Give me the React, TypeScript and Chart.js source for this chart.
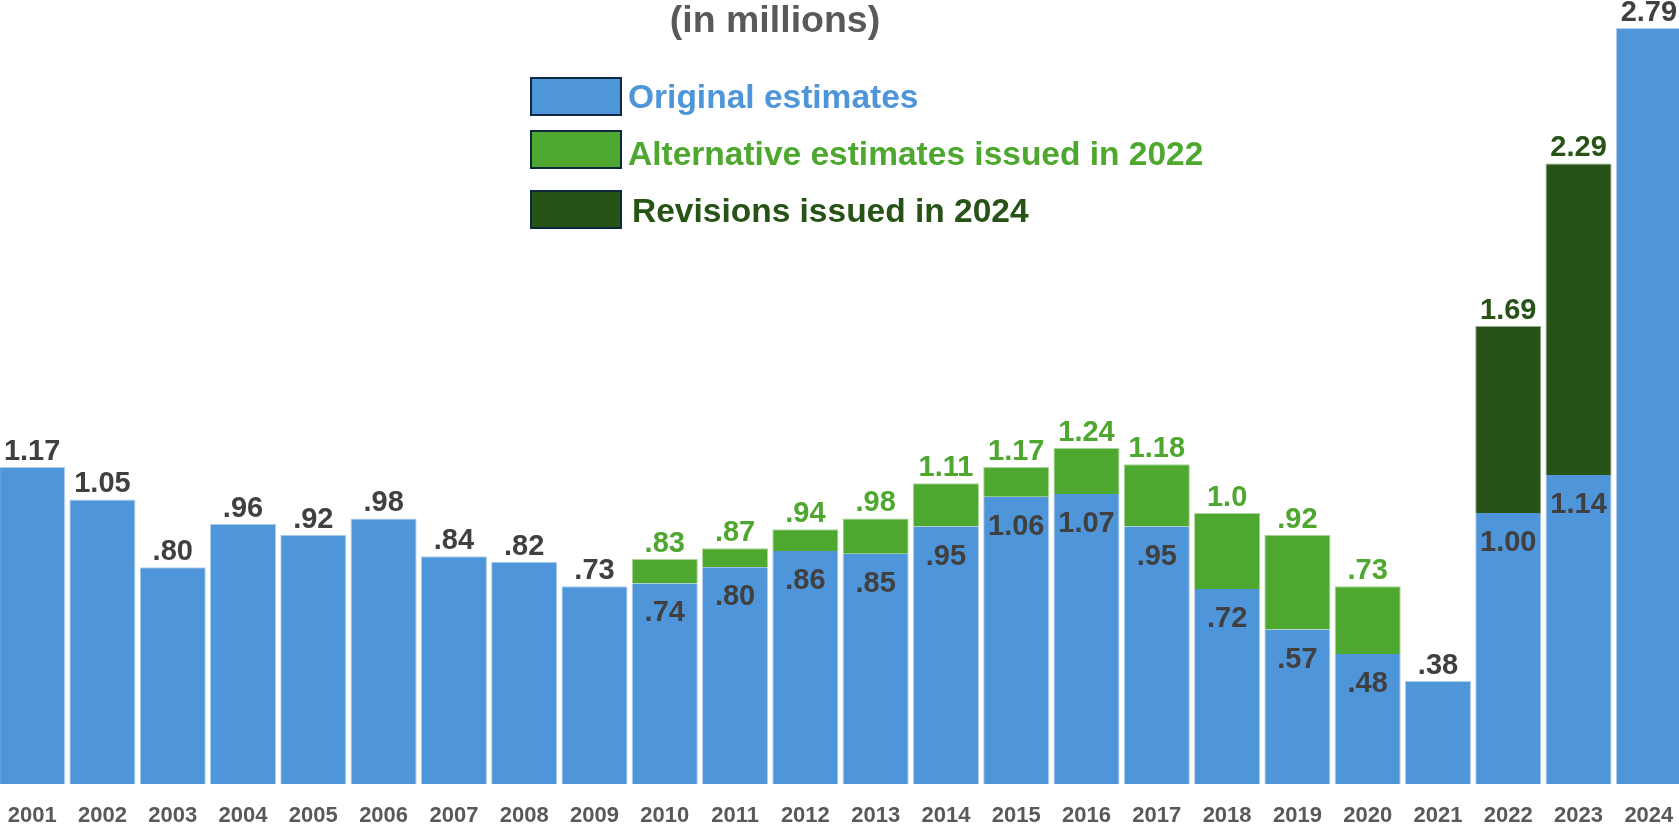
import React, { useEffect, useRef } from "react";
import { Chart, registerables } from "chart.js";

Chart.register(...registerables);

const years = [
  "2001", "2002", "2003", "2004", "2005", "2006", "2007", "2008", "2009", "2010", "2011", "2012",
  "2013", "2014", "2015", "2016", "2017", "2018", "2019", "2020", "2021", "2022", "2023", "2024",
];
const originalEstimates = [
  1.17, 1.05, 0.8, 0.96, 0.92, 0.98, 0.84, 0.82, 0.73, 0.74, 0.8, 0.86,
  0.85, 0.95, 1.06, 1.07, 0.95, 0.72, 0.57, 0.48, 0.38, 1.0, 1.14, 2.79,
];
const alternativeTotals = [
  null, null, null, null, null, null, null, null, null, 0.83, 0.87, 0.94,
  0.98, 1.11, 1.17, 1.24, 1.18, 1.0, 0.92, 0.73, null, null, null, null,
];
const alternativeLabels = [
  "", "", "", "", "", "", "", "", "", ".83", ".87", ".94",
  ".98", "1.11", "1.17", "1.24", "1.18", "1.0", ".92", ".73", "", "", "", "",
];
const revisionTotals = [
  null, null, null, null, null, null, null, null, null, null, null, null,
  null, null, null, null, null, null, null, null, null, 1.69, 2.29, null,
];
const legendLabels = ["Original estimates", "Alternative estimates issued in 2022", "Revisions issued in 2024"];
const titleText = "(in millions)";

const BLUE = "#4E95D9";
const GREEN = "#4EA72E";
const DARK = "#275317";
const TEXT = "#404040";
const GREY = "#595959";
const FONT = "'Liberation Sans', Arial, sans-serif";
const OFFSET_X = 3;

const fmt = (v: number) => (v < 1 ? v.toFixed(2).slice(1) : v.toFixed(2));

const labelsPlugin = {
  id: "customLabels",
  afterDatasetsDraw(chart: any) {
    const ctx = chart.ctx;
    const m0 = chart.getDatasetMeta(0);
    const m1 = chart.getDatasetMeta(1);
    const m2 = chart.getDatasetMeta(2);
    ctx.save();
    ctx.font = `bold 29px ${FONT}`;
    ctx.textAlign = "center";
    ctx.textBaseline = "alphabetic";
    years.forEach((_, i) => {
      const b0 = m0.data[i];
      const x = b0.x;
      let topLabel: string | null = null;
      let topColor = TEXT;
      let topY = 0;
      if (alternativeTotals[i] != null) {
        topLabel = alternativeLabels[i];
        topColor = GREEN;
        topY = m1.data[i].y;
      } else if (revisionTotals[i] != null) {
        topLabel = fmt(revisionTotals[i] as number);
        topColor = DARK;
        topY = m2.data[i].y;
      }
      if (topLabel) {
        ctx.fillStyle = topColor;
        ctx.fillText(topLabel, x, topY - 7);
        ctx.fillStyle = TEXT;
        ctx.fillText(fmt(originalEstimates[i]), x, b0.y + 38);
      } else {
        ctx.fillStyle = TEXT;
        ctx.fillText(fmt(originalEstimates[i]), x, b0.y - 7);
      }
    });
    ctx.restore();
  },
  afterDraw(chart: any) {
    const ctx = chart.ctx;
    ctx.save();
    ctx.textBaseline = "alphabetic";
    ctx.fillStyle = GREY;
    ctx.textAlign = "center";
    ctx.font = `bold 37.5px ${FONT}`;
    ctx.fillText(titleText, 775 + OFFSET_X, 32);

    const colors = [BLUE, GREEN, DARK];
    const boxTops = [77, 130, 190];
    const baselines = [108, 165, 222];
    const textX = [628, 628, 632];
    ctx.textAlign = "left";
    ctx.font = `bold 33.5px ${FONT}`;
    legendLabels.forEach((t, k) => {
      ctx.fillStyle = colors[k];
      ctx.fillRect(530 + OFFSET_X, boxTops[k], 92, 39);
      ctx.strokeStyle = "#0E2841";
      ctx.lineWidth = 2;
      ctx.strokeRect(530 + OFFSET_X + 1, boxTops[k] + 1, 90, 37);
      ctx.fillStyle = colors[k];
      ctx.fillText(t, textX[k] + OFFSET_X, baselines[k]);
    });
    ctx.restore();
  },
};

export default function App() {
  const canvasRef = useRef<HTMLCanvasElement | null>(null);

  useEffect(() => {
    if (!canvasRef.current) return;
    const altIncrements = alternativeTotals.map((t, i) => (t == null ? null : +(t - originalEstimates[i]).toFixed(2)));
    const revIncrements = revisionTotals.map((t, i) => (t == null ? null : +(t - originalEstimates[i]).toFixed(2)));
    const hasAbove = (i: number) => alternativeTotals[i] != null || revisionTotals[i] != null;

    const chart = new Chart(canvasRef.current, {
      type: "bar",
      data: {
        labels: years,
        datasets: [
          {
            label: legendLabels[0],
            data: originalEstimates,
            backgroundColor: BLUE,
            borderColor: "#B3CFEE",
            borderWidth: (c: any) =>
              hasAbove(c.dataIndex) ? { left: 1, right: 1, top: 0, bottom: 0 } : { left: 1, right: 1, top: 1, bottom: 0 },
            borderSkipped: false,
            stack: "s",
            barPercentage: 0.94,
            categoryPercentage: 1,
          },
          {
            label: legendLabels[1],
            data: altIncrements,
            backgroundColor: GREEN,
            borderColor: "#A9D59A",
            borderWidth: { left: 1, right: 1, top: 1, bottom: 0 },
            borderSkipped: false,
            stack: "s",
            barPercentage: 0.94,
            categoryPercentage: 1,
          },
          {
            label: legendLabels[2],
            data: revIncrements,
            backgroundColor: DARK,
            borderColor: "#93A98B",
            borderWidth: { left: 1, right: 1, top: 1, bottom: 0 },
            borderSkipped: false,
            stack: "s",
            barPercentage: 0.94,
            categoryPercentage: 1,
          },
        ],
      } as any,
      options: {
        responsive: false,
        animation: false,
        layout: { padding: 0 },
        plugins: {
          legend: { display: false },
          title: { display: false },
          tooltip: { enabled: false },
        },
        scales: {
          x: {
            stacked: true,
            grid: { display: false, drawTicks: false },
            border: { display: false },
            ticks: {
              color: GREY,
              font: { family: FONT, size: 22, weight: "bold" },
              padding: 19,
              maxRotation: 0,
              autoSkip: false,
            },
            afterFit: (scale: any) => {
              scale.height = 43;
              scale.paddingLeft = 0;
              scale.paddingRight = 0;
            },
          },
          y: {
            stacked: true,
            display: false,
            min: 0,
            max: 2.893,
          },
        },
      } as any,
      plugins: [labelsPlugin],
    });
    return () => chart.destroy();
  }, []);

  return (
    <div
      style={{
        position: "fixed",
        left: 0,
        top: 0,
        width: 1679,
        height: 827,
        overflow: "hidden",
        background: "#ffffff",
      }}
    >
      <canvas
        ref={canvasRef}
        width={1679 + 2 * OFFSET_X + 2}
        height={827}
        style={{ position: "absolute", left: -OFFSET_X, top: 0 }}
      />
    </div>
  );
}
